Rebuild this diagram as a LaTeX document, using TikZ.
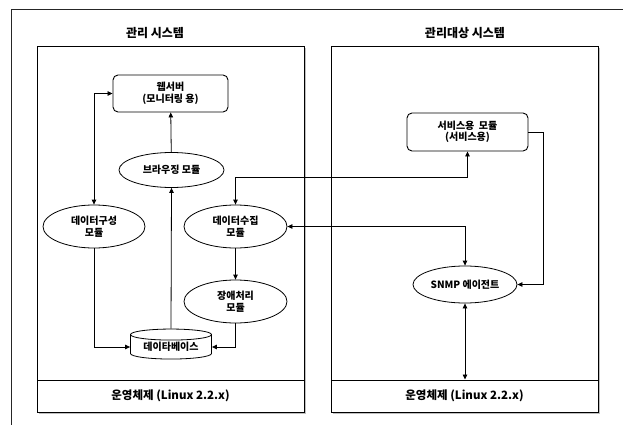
\documentclass[tikz,border=0pt]{standalone}
\usepackage{fontspec}
\setmainfont{Noto Sans CJK KR}[BoldFont={Noto Sans CJK KR Black}]
\usetikzlibrary{arrows.meta,shapes.geometric}

\tikzset{
  box/.style={draw, line width=0.9pt, rounded corners=5pt, align=center,
    font=\fontsize{10}{11.5}\selectfont\bfseries},
  modl/.style={draw, ellipse, line width=0.8pt, align=center, inner sep=0pt,
    font=\fontsize{10}{11.5}\selectfont\bfseries},
  osbar/.style={draw, line width=1pt, minimum width=267pt, minimum height=32pt,
    font=\fontsize{11.5}{13}\selectfont\bfseries},
  ttl/.style={font=\fontsize{12}{14}\selectfont\bfseries},
  conn/.style={line width=0.8pt, arrows={-Triangle[length=5pt,width=4.5pt]}},
  both/.style={line width=0.8pt, arrows={Triangle[length=5pt,width=4.5pt]-Triangle[length=5pt,width=4.5pt]}},
}

\begin{document}
\begin{tikzpicture}[x=1pt, y=-1pt]
  \useasboundingbox (0,0) rectangle (623,425);
  % outer page frame (top and left only)
  \draw[line width=1pt, black!85] (11,425) -- (11,10) -- (623,10);

  % two system frames with a light shadow
  \foreach \xa/\xb in {37/304, 331/598} {
    \draw[line width=1pt, black!25] (\xa+1.5,413.5) -- (\xb+1.5,413.5) -- (\xb+1.5,48.5);
    \draw[line width=1pt] (\xa,47) rectangle (\xb,412);
  }
  \node[ttl] (tL) at (155,33) {관리 시스템};
  \node[ttl] (tR) at (465,33) {관리대상 시스템};
  \node[osbar] (osL) at (170.5,396) {운영체제 (Linux 2.2.x)};
  \node[osbar] (osR) at (464.5,396) {운영체제 (Linux 2.2.x)};

  % management side
  \node[box, minimum width=115pt, minimum height=37pt] (web) at (170.5,93.5) {웹서버\\(모니터링 용)};
  \node[modl, minimum width=105pt, minimum height=35pt] (brw) at (171.5,170) {브라우징 모듈};
  \node[modl, minimum width=102pt, minimum height=43pt] (dcfg) at (94,226.5) {데이터구성\\모듈};
  \node[modl, minimum width=103pt, minimum height=43pt] (dcol) at (235.5,226.5) {데이터수집\\모듈};
  \node[modl, minimum width=103pt, minimum height=43pt] (flt) at (235.5,301.5) {장애처리\\모듈};
  \node[draw, cylinder, shape border rotate=90, aspect=0.2, line width=0.8pt,
    minimum width=81pt, minimum height=30pt, inner sep=0pt,
    font=\fontsize{10}{11.5}\selectfont\bfseries] (db) at (171,347) {데이타베이스};

  % managed side
  \node[box, minimum width=121pt, minimum height=38pt] (svc) at (467.5,132) {서비스용~~모듈\\(서비스용)};
  \node[modl, minimum width=104pt, minimum height=37pt] (snmp) at (465,284.5) {SNMP 에이전트};

  % connectors
  \draw[both] (dcfg.north) |- (web.west);
  \draw[conn] (brw) -- (web);
  \draw[conn] (db.north) -- (brw.south);
  \draw[conn] (dcfg.south) |- (db.west);
  \draw[conn] (flt.south) |- (db.east);
  \draw[conn] (dcol) -- (flt);
  \draw[both] (dcol.north) -- ++(0,-27) -| (svc.south);
  \draw[both] (dcol.east) -| (snmp.north);
  \draw[conn] (svc.east) -- ++(15,0) |- (snmp.east);
  \draw[both] (snmp.south) -- (snmp.south |- osR.north);
\end{tikzpicture}
\end{document}
